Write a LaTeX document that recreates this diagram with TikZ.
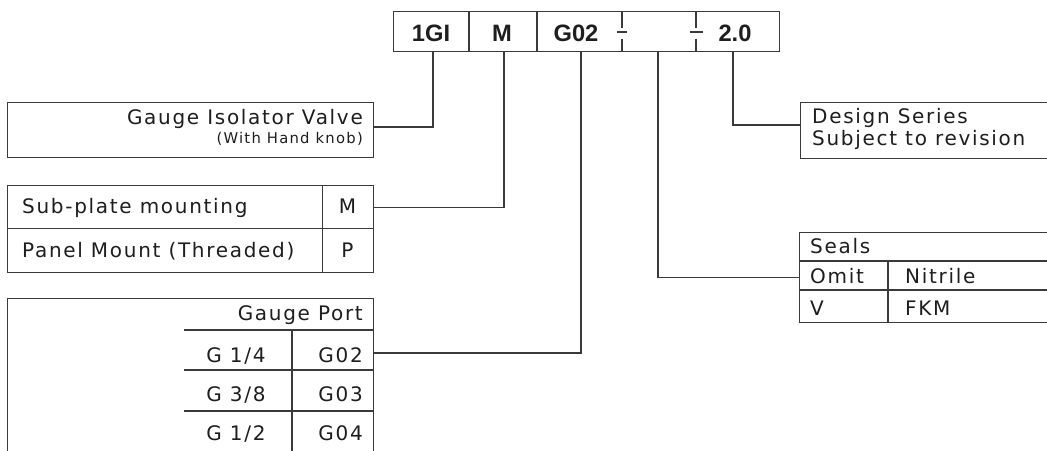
\documentclass[tikz,border=0pt]{standalone}
\usepackage{fontspec}
\setmainfont{DejaVu Sans}[LetterSpace=8.5]
\newfontfamily\codefont{Liberation Sans}
\usetikzlibrary{calc}
\definecolor{lc}{HTML}{3A3A3A}
\definecolor{tc}{HTML}{1E1E1E}
\tikzset{
  ln/.style={draw=lc, line width=1.2pt},
  cell/.style={ln, rectangle, inner sep=0pt, anchor=north west},
  txt/.style={inner sep=0pt, text=tc, font=\fontsize{20}{22}\selectfont},
  smalltxt/.style={inner sep=0pt, text=tc, font=\fontsize{14.8}{16}\selectfont},
  codetxt/.style={inner sep=0pt, text=tc, font=\codefont\bfseries\fontsize{23.7}{26}\selectfont},
}
\begin{document}
\begin{tikzpicture}[x=1pt,y=-1pt]
\useasboundingbox (0,0) rectangle (1047,450);
\fill[white] (0,0) rectangle (1047,450);
\clip (0,0) rectangle (1047,450);

% ---- code box ----
\node[cell, minimum width=386pt, minimum height=40pt] (codebox) at (393,11) {};
\draw[ln] (469,11) -- (469,51) (537,11) -- (537,51);
\draw[ln] (622,11) -- (622,28) (617,32) -- (627,32) (622,39) -- (622,51);
\draw[ln] (696,11) -- (696,28) (690,32) -- (703,32) (696,39) -- (696,51);
\node[codetxt, anchor=base] (k1) at (431,41) {1GI};
\node[codetxt, anchor=base] (k2) at (502,41) {M};
\node[codetxt, anchor=base] (k3) at (576,41) {G02};
\node[codetxt, anchor=base] (k5) at (735,41) {2.0};
\coordinate (d1) at (433,51);
\coordinate (d2) at (504,51);
\coordinate (d3) at (581,51);
\coordinate (d4) at (658,51);
\coordinate (d5) at (733,51);

% ---- Gauge isolator ----
\node[cell, minimum width=366pt, minimum height=55pt] (giv) at (7,102) {};
\node[txt, anchor=base east] (givt) at (363,124) {Gauge Isolator Valve};
\node[smalltxt, anchor=base east] (givs) at (363,143.5) {(With Hand knob)};
\coordinate (e1) at (373,127);

% ---- mounting ----
\node[cell, minimum width=315pt, minimum height=43pt] (sp1) at (7,185) {};
\node[cell, minimum width=51pt, minimum height=43pt] (sp1m) at (322,185) {};
\node[cell, minimum width=315pt, minimum height=44pt] (sp2) at (7,228) {};
\node[cell, minimum width=51pt, minimum height=44pt] (sp2p) at (322,228) {};
\node[txt, anchor=base west] (sp1t) at (22,213) {Sub-plate mounting};
\node[txt, anchor=base] (sp1mt) at (347.5,213) {M};
\node[txt, anchor=base west] (sp2t) at (22,257) {Panel Mount (Threaded)};
\node[txt, anchor=base] (sp2pt) at (347.5,257) {P};

% ---- gauge port ----
\node[cell, minimum width=366pt, minimum height=162pt] (gp) at (7,298) {};
\draw[ln] (184,330) -- (373,330) (184,370) -- (373,370) (184,411) -- (373,411);
\draw[ln] (292,330) -- (292,460);
\node[txt, anchor=base east] (gpt) at (363,320.5) {Gauge Port};
\node[txt, anchor=base] (gpa1) at (236,362) {G 1/4};
\node[txt, anchor=base east] (gpb1) at (363,362) {G02};
\node[txt, anchor=base] (gpa2) at (236,401) {G 3/8};
\node[txt, anchor=base east] (gpb2) at (363,401) {G03};
\node[txt, anchor=base] (gpa3) at (236,440) {G 1/2};
\node[txt, anchor=base east] (gpb3) at (363,440) {G04};
\coordinate (e3) at (373,353);

% ---- design series ----
\node[cell, minimum width=300pt, minimum height=56pt] (des) at (800,102) {};
\node[txt, anchor=base west] (dest1) at (812,123) {Design Series};
\node[txt, anchor=base west] (dest2) at (812,145) {Subject to revision};
\coordinate (e5) at (800,125);

% ---- seals ----
\node[cell, minimum width=300pt, minimum height=90pt] (seals) at (799,232) {};
\draw[ln] (799,261) -- (1060,261) (799,290) -- (1060,290);
\draw[ln] (888,261) -- (888,322);
\node[txt, anchor=base west] (st) at (810,253) {Seals};
\node[txt, anchor=base west] (s1a) at (810,283) {Omit};
\node[txt, anchor=base west] (s1b) at (905,283) {Nitrile};
\node[txt, anchor=base west] (s2a) at (810,315) {V};
\node[txt, anchor=base west] (s2b) at (905,315) {FKM};

% ---- connectors ----
\draw[ln] (d1) |- (e1);
\draw[ln] (d2) |- (sp1m.east);
\draw[ln] (d3) |- (e3);
\draw[ln] (d4) |- (seals.west);
\draw[ln] (d5) |- (e5);
\end{tikzpicture}
\end{document}
